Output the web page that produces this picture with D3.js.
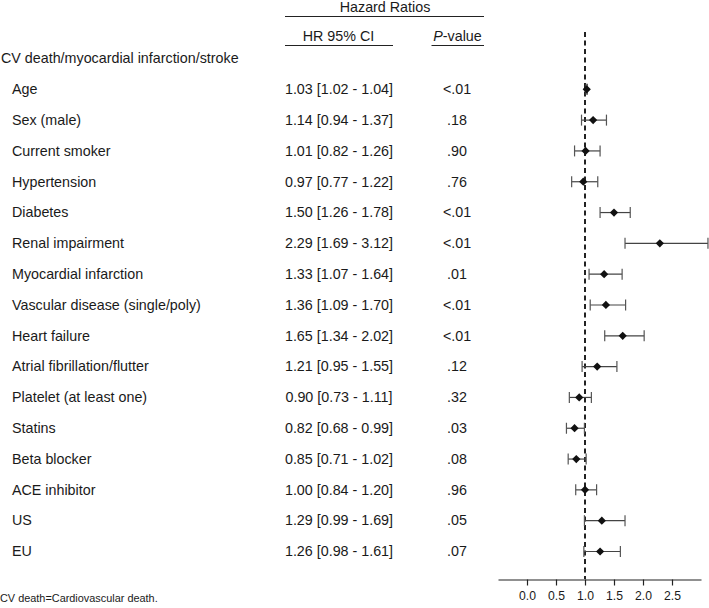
<!DOCTYPE html>
<html>
<head>
<meta charset="utf-8">
<script src="https://cdn.jsdelivr.net/npm/d3@7"></script>
<style>
  html, body { margin: 0; padding: 0; background: #fff; }
  svg { display: block; }
  text { font-family: "Liberation Sans", Arial, sans-serif; fill: #1a1a1a; }
</style>
</head>
<body>
<svg id="chart" width="709" height="608"></svg>
<script>
const title = "CV death/myocardial infarction/stroke";
const variables = ["Age", "Sex (male)", "Current smoker", "Hypertension", "Diabetes",
  "Renal impairment", "Myocardial infarction", "Vascular disease (single/poly)",
  "Heart failure", "Atrial fibrillation/flutter", "Platelet (at least one)", "Statins",
  "Beta blocker", "ACE inhibitor", "US", "EU"];
const hr    = [1.03, 1.14, 1.01, 0.97, 1.50, 2.29, 1.33, 1.36, 1.65, 1.21, 0.90, 0.82, 0.85, 1.00, 1.29, 1.26];
const lower = [1.02, 0.94, 0.82, 0.77, 1.26, 1.69, 1.07, 1.09, 1.34, 0.95, 0.73, 0.68, 0.71, 0.84, 0.99, 0.98];
const upper = [1.04, 1.37, 1.26, 1.22, 1.78, 3.12, 1.64, 1.70, 2.02, 1.55, 1.11, 0.99, 1.02, 1.20, 1.69, 1.61];
const pvals = ["<.01", ".18", ".90", ".76", "<.01", "<.01", ".01", "<.01", "<.01", ".12", ".32", ".03", ".08", ".96", ".05", ".07"];
const tickValues = [0.0, 0.5, 1.0, 1.5, 2.0, 2.5];
const footnote = "CV death=Cardiovascular death.";

const svg = d3.select("#chart");
const fs = 14.3;

const x = d3.scaleLinear().domain([-0.5, 3.0]).range([498, 701]);
const y = d3.scaleLinear().domain([0, 15]).range([89.3, 551.5]);

const fmt = d3.format(".2f");

// Header
svg.append("text").attr("x", 385).attr("y", 11.5).attr("text-anchor", "middle")
  .style("font-size", fs + "px").text("Hazard Ratios");
svg.append("line").attr("x1", 285).attr("x2", 484).attr("y1", 16.5).attr("y2", 16.5)
  .attr("stroke", "#222").attr("stroke-width", 1);
svg.append("text").attr("x", 338.5).attr("y", 40.5).attr("text-anchor", "middle")
  .style("font-size", fs + "px").text("HR 95% CI");
const pv = svg.append("text").attr("x", 457.5).attr("y", 40.5).attr("text-anchor", "middle")
  .style("font-size", fs + "px");
pv.append("tspan").style("font-style", "italic").text("P");
pv.append("tspan").text("-value");
svg.append("line").attr("x1", 285).attr("x2", 393).attr("y1", 45.5).attr("y2", 45.5)
  .attr("stroke", "#222").attr("stroke-width", 1);
svg.append("line").attr("x1", 431.5).attr("x2", 484).attr("y1", 45.5).attr("y2", 45.5)
  .attr("stroke", "#222").attr("stroke-width", 1);

svg.append("text").attr("x", 1).attr("y", y(-1) + 4.8)
  .style("font-size", fs + "px").text(title);

// Rows
const data = variables.map((v, i) => ({v, hr: hr[i], lo: lower[i], hi: upper[i], p: pvals[i], i}));

const rows = svg.append("g").selectAll("g").data(data).join("g");
rows.append("text").attr("x", 12).attr("y", d => y(d.i) + 4.8)
  .style("font-size", fs + "px").text(d => d.v);
rows.append("text").attr("x", 339).attr("y", d => y(d.i) + 4.8).attr("text-anchor", "middle")
  .style("font-size", fs + "px").text(d => `${fmt(d.hr)} [${fmt(d.lo)} - ${fmt(d.hi)}]`);
rows.append("text").attr("x", 457).attr("y", d => y(d.i) + 4.8).attr("text-anchor", "middle")
  .style("font-size", fs + "px").text(d => d.p);

// Reference line
svg.append("line").attr("x1", x(1)).attr("x2", x(1)).attr("y1", 32).attr("y2", 579)
  .attr("stroke", "#222").attr("stroke-width", 2).attr("stroke-dasharray", "5,3.5");

// Error bars
const eb = svg.append("g");
eb.selectAll("line.ci").data(data).join("line").attr("class", "ci")
  .attr("x1", d => x(d.lo)).attr("x2", d => x(d.hi))
  .attr("y1", d => y(d.i)).attr("y2", d => y(d.i))
  .attr("stroke", "#444").attr("stroke-width", 1.2);
eb.selectAll("line.capl").data(data).join("line").attr("class", "capl")
  .attr("x1", d => x(d.lo)).attr("x2", d => x(d.lo))
  .attr("y1", d => y(d.i) - 5.5).attr("y2", d => y(d.i) + 5.5)
  .attr("stroke", "#555").attr("stroke-width", 1.2);
eb.selectAll("line.capr").data(data).join("line").attr("class", "capr")
  .attr("x1", d => x(d.hi)).attr("x2", d => x(d.hi))
  .attr("y1", d => y(d.i) - 5.5).attr("y2", d => y(d.i) + 5.5)
  .attr("stroke", "#555").attr("stroke-width", 1.2);

const sym = d3.symbol().type(d3.symbolSquare).size(34);
svg.append("g").selectAll("path").data(data).join("path")
  .attr("d", sym)
  .attr("transform", d => `translate(${x(d.hr)},${y(d.i)}) rotate(45)`)
  .attr("fill", "#111");

// Axis
const axis = d3.axisBottom(x).tickValues(tickValues).tickFormat(d3.format(".1f"))
  .tickSize(6).tickSizeOuter(0);
const ag = svg.append("g").attr("transform", "translate(0,579.5)").call(axis);
ag.select(".domain").attr("stroke", "#222").attr("stroke-width", 1.2);
ag.selectAll(".tick line").attr("stroke", "#222").attr("stroke-width", 1.2);
ag.selectAll(".tick text").style("font-size", "12.2px")
  .style("font-family", "'Liberation Sans', Arial, sans-serif").attr("fill", "#1a1a1a")
  .attr("dy", null).attr("y", 20.5);

// Footnote
svg.append("text").attr("x", 0).attr("y", 602).style("font-size", "10.9px").text(footnote);
</script>
</body>
</html>
